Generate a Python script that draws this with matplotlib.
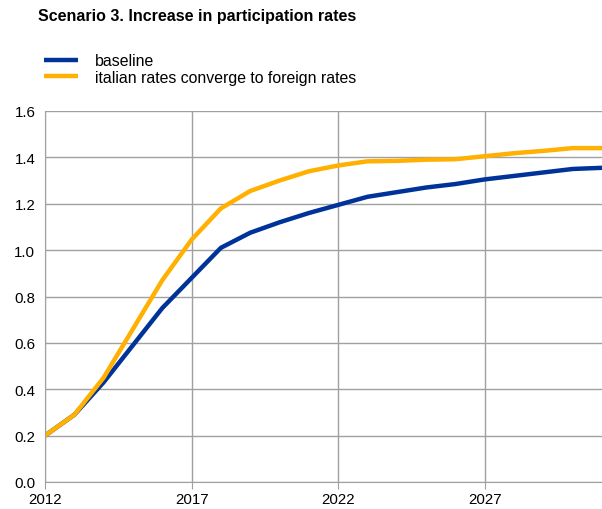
import matplotlib
matplotlib.use("Agg")
import matplotlib.pyplot as plt

years = list(range(2012, 2032))
baseline = [0.20, 0.29, 0.43, 0.59, 0.75, 0.88, 1.01, 1.075, 1.12, 1.16, 1.195,
            1.23, 1.25, 1.27, 1.285, 1.305, 1.32, 1.335, 1.35, 1.355]
converge = [0.20, 0.29, 0.45, 0.66, 0.87, 1.045, 1.18, 1.255, 1.30, 1.34, 1.365,
            1.383, 1.385, 1.39, 1.392, 1.405, 1.418, 1.428, 1.44, 1.44]

xticks = [2012, 2017, 2022, 2027]
yticks = [0.0, 0.2, 0.4, 0.6, 0.8, 1.0, 1.2, 1.4, 1.6]

blue = "#003399"
orange = "#FFB000"
grid_c = "#a0a0a0"

plt.rcParams["font.family"] = ["Liberation Sans", "DejaVu Sans"]

fig = plt.figure(figsize=(6.02, 5.10), dpi=100)
ax = fig.add_axes([45 / 602, 1 - 483 / 510, 1 - 45 / 602, (483 - 112) / 510])

ax.plot(years, baseline, color=blue, lw=3.2, label="baseline", solid_capstyle="butt")
ax.plot(years, converge, color=orange, lw=3.2,
        label="italian rates converge to foreign rates", solid_capstyle="butt")

ax.set_xlim(2012, 2031)
ax.set_ylim(0, 1.6)
ax.set_xticks(xticks)
ax.set_yticks(yticks)
ax.set_yticklabels([f"{v:.1f}" for v in yticks])
ax.grid(True, color=grid_c, lw=1)
ax.set_axisbelow(True)
for s in ["top", "right"]:
    ax.spines[s].set_visible(False)
for s in ["left", "bottom"]:
    ax.spines[s].set_color(grid_c)
ax.tick_params(axis="x", length=5, color=grid_c, labelsize=10.8, pad=2)
ax.tick_params(axis="y", length=0, labelsize=10.8, pad=7)

fig.text(38 / 602, 1 - 17 / 510, "Scenario 3. Increase in participation rates",
         fontsize=11.5, fontweight="bold", va="center")
fig.legend(loc="upper left", bbox_to_anchor=(38 / 602, 1 - 48 / 510), frameon=False,
           fontsize=11.4, handlelength=2.1, handletextpad=1.1, labelspacing=0.08,
           borderaxespad=0)

fig.savefig("out.png", dpi=100)
